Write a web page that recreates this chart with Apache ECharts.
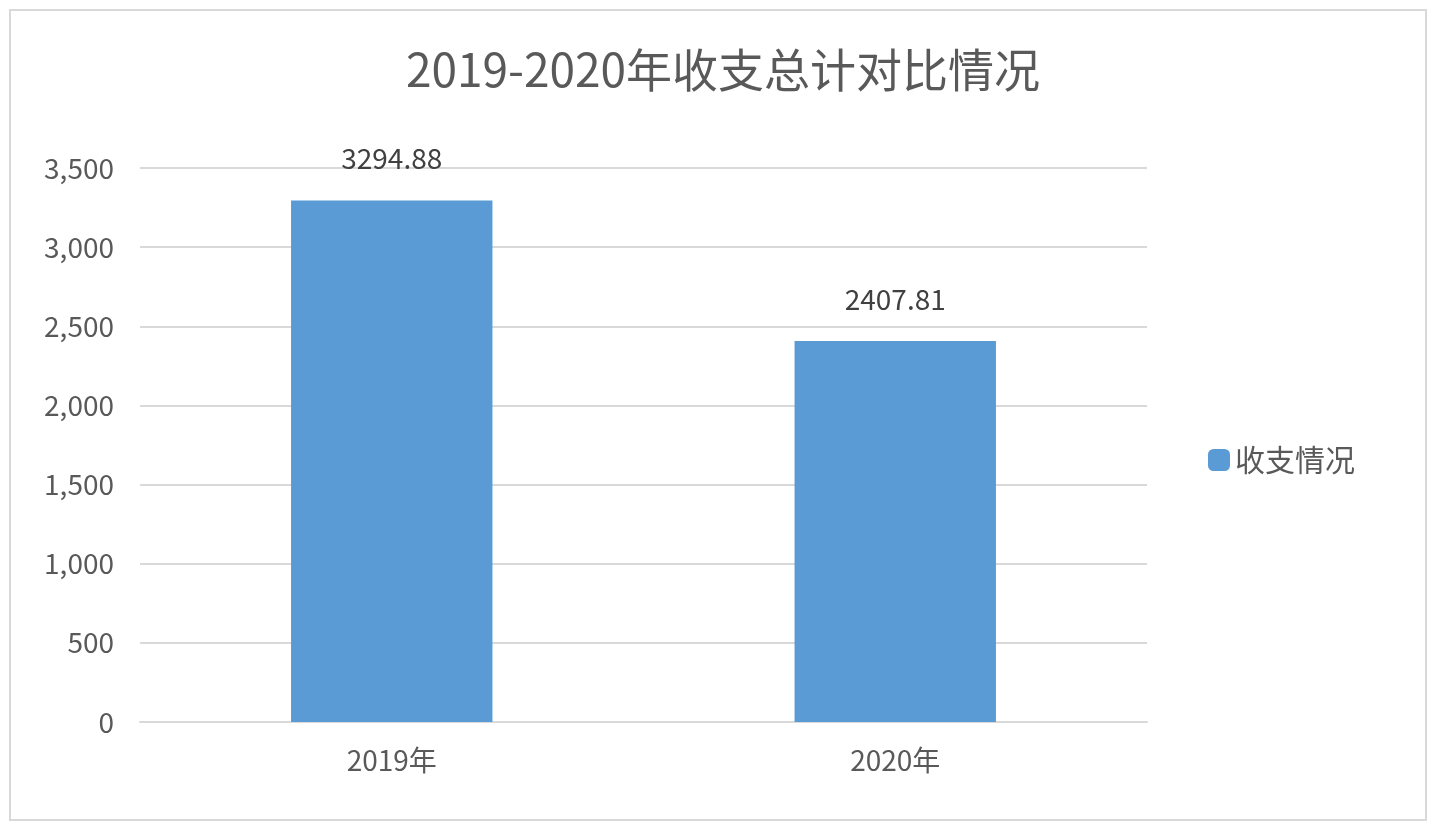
<!DOCTYPE html>
<html><head><meta charset="utf-8">
<script src="https://cdn.jsdelivr.net/npm/echarts@6/dist/echarts.min.js"></script>
<style>html,body{margin:0;padding:0;background:#fff}#c{width:1435px;height:830px}
#b{position:absolute;left:9px;top:9px;width:1418px;height:812px;border:2px solid #d9d9d9;box-sizing:border-box;pointer-events:none}</style>
</head><body><div id="c"></div><div id="b"></div>
<script>
const titleText = '2019-2020年收支总计对比情况';
const categories = ['2019年', '2020年'];
const seriesName = '收支情况';
const values = [3294.88, 2407.81];
const yTicks = [0, 500, 1000, 1500, 2000, 2500, 3000, 3500];
const font = '"Noto Sans CJK SC", "Open Sans", sans-serif';
const chart = echarts.init(document.getElementById('c'));
chart.setOption({
  animation: false,
  title: {text: titleText, left: 718, top: 42, textAlign: 'center',
    textStyle: {fontFamily: font, fontSize: 46, fontWeight: 'normal', color: '#595959'}},
  legend: {data: [seriesName], left: 1203, top: 440, orient: 'vertical', itemWidth: 22, itemHeight: 22, itemGap: 10,
    textStyle: {fontFamily: font, fontSize: 30, color: '#595959'}},
  grid: {left: 140, right: 288, top: 168, bottom: 108},
  xAxis: {type: 'category', data: categories,
    axisLine: {lineStyle: {color: '#d9d9d9', width: 2}}, axisTick: {show: false},
    axisLabel: {fontFamily: font, fontSize: 28, color: '#595959', margin: 24}},
  yAxis: {type: 'value', min: yTicks[0], max: yTicks[yTicks.length-1], interval: 500,
    axisLine: {show: false}, axisTick: {show: false},
    splitLine: {lineStyle: {color: '#d9d9d9', width: 2}},
    axisLabel: {fontFamily: font, fontSize: 28, color: '#595959', margin: 26}},
  series: [{name: seriesName, type: 'bar', data: values, barWidth: '40%',
    itemStyle: {color: '#5b9bd5'},
    label: {show: true, position: 'top', distance: 28, fontFamily: font, fontSize: 28, color: '#404040',
      formatter: p => p.value.toFixed(2)}}]
});
</script></body></html>
